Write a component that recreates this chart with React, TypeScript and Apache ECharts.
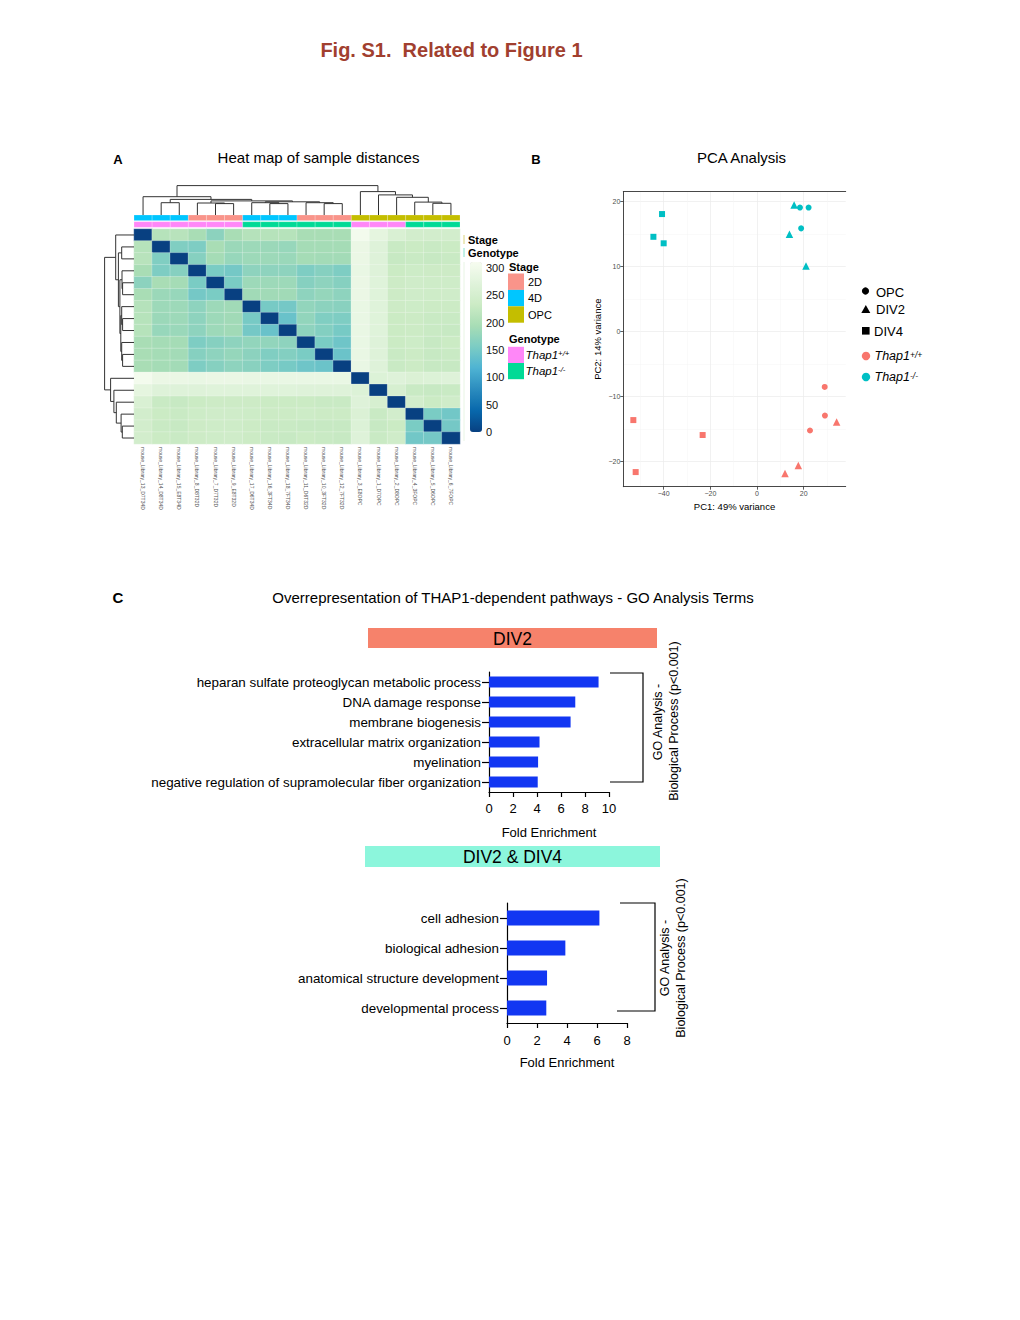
import React, { useEffect, useRef } from 'react';
import * as echarts from 'echarts';

const FONT = '"Liberation Sans", Arial, Helvetica, sans-serif';

// ---------------- Panel A: sample distance heat map ----------------
const sampleNames = [
  'mouse_Library_13_D7T34D', 'mouse_Library_14_D8T34D', 'mouse_Library_15_E8T34D',
  'mouse_Library_8_D8T32D', 'mouse_Library_7_D7T32D', 'mouse_Library_9_E8T32D',
  'mouse_Library_17_D6T34D', 'mouse_Library_16_3FT34D', 'mouse_Library_18_7FT34D',
  'mouse_Library_11_D6T32D', 'mouse_Library_10_3FT32D', 'mouse_Library_12_7FT32D',
  'mouse_Library_3_E8OPC', 'mouse_Library_1_D7OPC', 'mouse_Library_2_D8OPC',
  'mouse_Library_4_3FOPC', 'mouse_Library_5_D6OPC', 'mouse_Library_6_7FOPC',
];
const sampleStage = ['4D', '4D', '4D', '2D', '2D', '2D', '4D', '4D', '4D', '2D', '2D', '2D', 'OPC', 'OPC', 'OPC', 'OPC', 'OPC', 'OPC'];
const sampleGenotype = ['+/+', '+/+', '+/+', '+/+', '+/+', '+/+', '-/-', '-/-', '-/-', '-/-', '-/-', '-/-', '+/+', '+/+', '+/+', '-/-', '-/-', '-/-'];
const stageLevels = ['2D', '4D', 'OPC'];
const genotypeLevels = ['+/+', '-/-'];

// upper triangle of the (symmetric) distance matrix, row i holds columns i+1..18
const distanceUpper: number[][] = [
  [210, 212, 195, 170, 195, 208, 210, 210, 195, 195, 195, 305, 280, 258, 245, 245, 245],
  [160, 158, 195, 183, 185, 183, 180, 192, 192, 192, 290, 268, 230, 232, 230, 232],
  [165, 192, 180, 185, 185, 182, 192, 190, 190, 290, 268, 228, 230, 228, 230],
  [155, 150, 172, 172, 172, 158, 165, 158, 288, 268, 232, 236, 235, 235],
  [155, 185, 185, 185, 165, 172, 165, 290, 270, 235, 240, 238, 238],
  [188, 188, 188, 172, 178, 172, 290, 270, 235, 240, 238, 240],
  [152, 150, 175, 170, 168, 288, 270, 235, 236, 233, 233],
  [140, 175, 160, 158, 288, 270, 232, 233, 230, 230],
  [172, 162, 152, 288, 270, 232, 233, 230, 228],
  [155, 145, 288, 268, 232, 236, 228, 232],
  [142, 288, 268, 230, 233, 228, 230],
  [288, 268, 230, 233, 228, 228],
  [265, 268, 262, 265, 268],
  [252, 230, 228, 230],
  [245, 232, 240],
  [155, 148],
  [150],
];
const distanceMax = 311;
const colorbarTicks = [0, 50, 100, 150, 200, 250, 300];

// hierarchical clustering merges (hclust style: negative = leaf position, positive = earlier merge), relative height
const dendroMerges: [number, number, number][] = [
  [-2, -3, 0.41],
  [-5, -6, 0.38],
  [-4, 2, 0.40],
  [-8, -9, 0.38],
  [-7, 4, 0.41],
  [-11, -12, 0.38],
  [-10, 6, 0.41],
  [5, 7, 0.44],
  [3, 8, 0.47],
  [1, 9, 0.52],
  [-1, 10, 0.61],
  [-17, -18, 0.39],
  [-16, 12, 0.43],
  [-15, 13, 0.59],
  [-14, 14, 0.67],
  [-13, 15, 0.78],
  [11, 16, 0.98],
];

// ---------------- Panel B: PCA ----------------
const pcaPC1 = [-40.7, -44.4, -40.0, 15.9, 13.9, 21.0, 18.4, 22.1, 18.9, -53.0, -23.3, -52.0, 34.1, 17.7, 12.0, 29.0, 29.1, 22.7];
const pcaPC2 = [18.1, 14.6, 13.6, 19.5, 15.0, 10.1, 19.1, 19.1, 15.9, -13.6, -15.9, -21.6, -13.9, -20.6, -21.8, -8.5, -12.9, -15.2];
const pcaStage = ['DIV4', 'DIV4', 'DIV4', 'DIV2', 'DIV2', 'DIV2', 'OPC', 'OPC', 'OPC', 'DIV4', 'DIV4', 'DIV4', 'DIV2', 'DIV2', 'DIV2', 'OPC', 'OPC', 'OPC'];
const pcaGenotype = ['-/-', '-/-', '-/-', '-/-', '-/-', '-/-', '-/-', '-/-', '-/-', '+/+', '+/+', '+/+', '+/+', '+/+', '+/+', '+/+', '+/+', '+/+'];
const pcaStages = ['OPC', 'DIV2', 'DIV4'];
const pc1Range = [-57.3, 38.0];
const pc2Range = [-23.85, 21.54];
const pc1Ticks = [-40, -20, 0, 20];
const pc1Minor = [-50, -30, -10, 10, 30];
const pc2Ticks = [-20, -10, 0, 10, 20];
const pc2Minor = [-15, -5, 5, 15];

// ---------------- Panel C: GO terms ----------------
const div2Terms = [
  'heparan sulfate proteoglycan metabolic process',
  'DNA damage response',
  'membrane biogenesis',
  'extracellular matrix organization',
  'myelination',
  'negative regulation of supramolecular fiber organization',
];
const div2Fold = [9.13, 7.19, 6.8, 4.21, 4.09, 4.06];
const div24Terms = ['cell adhesion', 'biological adhesion', 'anatomical structure development', 'developmental process'];
const div24Fold = [6.16, 3.89, 2.67, 2.62];

// ---------------- styles ----------------
const stageColors: Record<string, string> = { '2D': '#F9948A', '4D': '#00C6FF', OPC: '#C4BE00' };
const genotypeColors: Record<string, string> = { '+/+': '#FF87F8', '-/-': '#00DA96' };
const heatColors = ['#084081', '#0868ac', '#2b8cbe', '#4eb3d3', '#7bccc4', '#a8ddb5', '#ccebc5', '#e0f3db', '#f7fcf0'];
const pcaColors: Record<string, string> = { '+/+': '#F8766D', '-/-': '#00BFC4' };
const pcaSymbols: Record<string, string> = { OPC: 'circle', DIV2: 'triangle', DIV4: 'rect' };
const pcaSizes: Record<string, number> = { OPC: 6, DIV2: 7.5, DIV4: 6 };
const BAR_BLUE = '#1236F2';

function buildDendro(merges: [number, number, number][]) {
  const pos: number[] = [];
  const hgt: number[] = [];
  const segs: number[][] = [];
  merges.forEach(([a, b, h], k) => {
    const get = (c: number) => (c < 0 ? [-c, 0] : [pos[c - 1], hgt[c - 1]]);
    const [xa, ha] = get(a);
    const [xb, hb] = get(b);
    pos[k] = (xa + xb) / 2;
    hgt[k] = h;
    segs.push([xa, ha, xb, hb, h]);
  });
  return segs;
}

function txt(x: number, y: number, text: string, o: any = {}) {
  return {
    type: 'text',
    x,
    y,
    rotation: o.rotation || 0,
    silent: true,
    style: {
      text,
      fontFamily: FONT,
      fontSize: o.size || 12,
      fontWeight: o.weight || 'normal',
      fontStyle: o.italic ? 'italic' : 'normal',
      fill: o.color || '#000',
      align: o.align || 'left',
      verticalAlign: 'middle',
      textAlign: o.align || 'left',
      textVerticalAlign: 'middle',
    },
  };
}

function thapText(x: number, y: number, geno: string, size: number) {
  return {
    type: 'text',
    x,
    y,
    silent: true,
    style: {
      text: `{i|Thap1}{s|${geno}}`,
      align: 'left',
      verticalAlign: 'middle',
      textAlign: 'left',
      textVerticalAlign: 'middle',
      rich: {
        i: { fontFamily: FONT, fontSize: size, fontStyle: 'italic', fill: '#000', lineHeight: size + 1, verticalAlign: 'bottom' },
        s: { fontFamily: FONT, fontSize: size * 0.68, fontStyle: 'italic', fill: '#000', lineHeight: size * 0.68 + 1, verticalAlign: 'top', padding: [1, 0, 0, 0] },
      },
    },
  };
}

function buildOption() {
  const n = sampleNames.length;
  const dist: number[][] = Array.from({ length: n }, () => Array(n).fill(0));
  distanceUpper.forEach((row, i) =>
    row.forEach((v, k) => {
      const j = i + 1 + k;
      dist[i][j] = v;
      dist[j][i] = v;
    })
  );
  const heatData: number[][] = [];
  for (let i = 0; i < n; i++) for (let j = 0; j < n; j++) heatData.push([j, i, dist[i][j]]);

  const dendroSegs = buildDendro(dendroMerges);

  const annotRender = (levels: string[], colors: Record<string, string>) => (params: any, api: any) => {
    const i = api.value(0);
    const p0 = api.coord([i - 0.5, 1]);
    const p1 = api.coord([i + 0.5, 0]);
    return {
      type: 'rect',
      shape: { x: p0[0], y: p0[1], width: p1[0] - p0[0], height: p1[1] - p0[1] },
      style: { fill: colors[levels[params.dataIndex]], stroke: 'rgba(255,255,255,0.35)', lineWidth: 0.6 },
    };
  };

  const grids = [
    { left: 134, top: 229, width: 326, height: 215 },
    { left: 134, top: 215, width: 326, height: 5.6 },
    { left: 134, top: 221.7, width: 326, height: 5.6 },
    { left: 134, top: 185, width: 326, height: 30 },
    { left: 104, top: 229, width: 30, height: 215 },
    { left: 470, top: 262, width: 12, height: 170 },
    { left: 623.3, top: 191.7, width: 222.4, height: 295 },
    { left: 489, top: 672, width: 120, height: 120 },
    { left: 507, top: 903, width: 120, height: 120 },
  ].map((g) => ({ ...g, containLabel: false, outerBoundsMode: 'none', show: false }));

  const hiddenVal = (gridIndex: number, min: number, max: number, inverse = false) => ({
    gridIndex,
    type: 'value',
    min,
    max,
    inverse,
    show: false,
  });

  const minus = (v: number) => (v < 0 ? '\u2212' + Math.abs(v) : String(v));

  const pcaLine = { show: true, onZero: false, lineStyle: { color: '#333', width: 0.9 } };
  const pcaLabel = { fontSize: 7, color: '#4D4D4D', margin: 3, fontFamily: FONT, formatter: minus };
  const pcaName = { fontSize: 9.5, color: '#000', fontFamily: FONT };

  const barAxisLine = { show: true, onZero: false, lineStyle: { color: '#000', width: 1.2 } };
  const termLabel = { fontSize: 13.4, color: '#000', margin: 8, fontFamily: FONT, interval: 0 };

  const xAxis: any[] = [
    {
      gridIndex: 0,
      type: 'category',
      data: sampleNames,
      axisLine: { show: false },
      axisTick: { show: false },
      splitLine: { show: false },
      axisLabel: { rotate: -90, fontSize: 5, color: '#555', interval: 0, margin: 3, fontFamily: FONT },
    },
    hiddenVal(1, 0.5, 18.5),
    hiddenVal(2, 0.5, 18.5),
    hiddenVal(3, 0.5, 18.5),
    hiddenVal(4, 0, 1, true),
    hiddenVal(5, 0, 1),
    {
      gridIndex: 6,
      type: 'value',
      min: pc1Range[0],
      max: pc1Range[1],
      position: 'bottom',
      axisLine: pcaLine,
      axisTick: { show: true, length: 3, customValues: pc1Ticks, lineStyle: { color: '#333', width: 0.8 } },
      axisLabel: { ...pcaLabel, customValues: pc1Ticks },
      splitLine: { show: true, lineStyle: { color: '#EBEBEB', width: 0.7 } },
      name: 'PC1: 49% variance',
      nameLocation: 'middle',
      nameGap: 15,
      nameTextStyle: pcaName,
    },
    {
      gridIndex: 6,
      type: 'value',
      min: pc1Range[0],
      max: pc1Range[1],
      axisLine: { show: false, onZero: false },
      axisTick: { show: false, customValues: pc1Minor },
      axisLabel: { show: false, customValues: pc1Minor },
      splitLine: { show: true, lineStyle: { color: '#F4F4F4', width: 0.5 } },
    },
    {
      gridIndex: 6,
      type: 'value',
      min: pc1Range[0],
      max: pc1Range[1],
      position: 'top',
      axisLine: pcaLine,
      axisTick: { show: false },
      axisLabel: { show: false },
      splitLine: { show: false },
    },
    {
      gridIndex: 7,
      type: 'value',
      min: 0,
      max: 10,
      interval: 2,
      axisLine: barAxisLine,
      axisTick: { show: true, length: 5, lineStyle: { color: '#000', width: 1.2 } },
      axisLabel: { fontSize: 13, color: '#000', margin: 10, fontFamily: FONT },
      splitLine: { show: false },
      name: 'Fold Enrichment',
      nameLocation: 'middle',
      nameGap: 34,
      nameTextStyle: { fontSize: 13, color: '#000', fontFamily: FONT },
    },
    {
      gridIndex: 8,
      type: 'value',
      min: 0,
      max: 8,
      interval: 2,
      axisLine: barAxisLine,
      axisTick: { show: true, length: 5, lineStyle: { color: '#000', width: 1.2 } },
      axisLabel: { fontSize: 13, color: '#000', margin: 11, fontFamily: FONT },
      splitLine: { show: false },
      name: 'Fold Enrichment',
      nameLocation: 'middle',
      nameGap: 33,
      nameTextStyle: { fontSize: 13, color: '#000', fontFamily: FONT },
    },
  ];

  const yAxis: any[] = [
    { gridIndex: 0, type: 'category', data: sampleNames, inverse: true, show: false },
    hiddenVal(1, 0, 1),
    hiddenVal(2, 0, 1),
    hiddenVal(3, 0, 1),
    hiddenVal(4, 0.5, 18.5, true),
    {
      gridIndex: 5,
      type: 'value',
      min: 0,
      max: distanceMax,
      position: 'right',
      axisLine: { show: false, onZero: false },
      axisTick: { show: false, customValues: colorbarTicks },
      splitLine: { show: false },
      axisLabel: { customValues: colorbarTicks, fontSize: 11, color: '#111', margin: 4, fontFamily: FONT },
    },
    {
      gridIndex: 6,
      type: 'value',
      min: pc2Range[0],
      max: pc2Range[1],
      position: 'left',
      axisLine: pcaLine,
      axisTick: { show: true, length: 3, customValues: pc2Ticks, lineStyle: { color: '#333', width: 0.8 } },
      axisLabel: { ...pcaLabel, customValues: pc2Ticks },
      splitLine: { show: true, lineStyle: { color: '#EBEBEB', width: 0.7 } },
      name: 'PC2: 14% variance',
      nameLocation: 'middle',
      nameGap: 21,
      nameTextStyle: pcaName,
    },
    {
      gridIndex: 6,
      type: 'value',
      min: pc2Range[0],
      max: pc2Range[1],
      axisLine: { show: false, onZero: false },
      axisTick: { show: false, customValues: pc2Minor },
      axisLabel: { show: false, customValues: pc2Minor },
      splitLine: { show: true, lineStyle: { color: '#F4F4F4', width: 0.5 } },
    },
    {
      gridIndex: 7,
      type: 'category',
      data: div2Terms,
      inverse: true,
      axisLine: barAxisLine,
      axisTick: { show: true, alignWithLabel: true, length: 7, lineStyle: { color: '#000', width: 1.2 } },
      axisLabel: termLabel,
    },
    {
      gridIndex: 8,
      type: 'category',
      data: div24Terms,
      inverse: true,
      axisLine: barAxisLine,
      axisTick: { show: true, alignWithLabel: true, length: 7, lineStyle: { color: '#000', width: 1.2 } },
      axisLabel: termLabel,
    },
  ];

  const series: any[] = [
    {
      type: 'heatmap',
      xAxisIndex: 0,
      yAxisIndex: 0,
      data: heatData,
      itemStyle: { borderColor: 'rgba(255,255,255,0.4)', borderWidth: 0.6 },
      emphasis: { disabled: true },
      silent: true,
    },
    {
      type: 'custom',
      xAxisIndex: 1,
      yAxisIndex: 1,
      data: sampleStage.map((_, i) => [i + 1, 0]),
      renderItem: annotRender(sampleStage, stageColors),
      silent: true,
      clip: false,
    },
    {
      type: 'custom',
      xAxisIndex: 2,
      yAxisIndex: 2,
      data: sampleGenotype.map((_, i) => [i + 1, 0]),
      renderItem: annotRender(sampleGenotype, genotypeColors),
      silent: true,
      clip: false,
    },
    {
      type: 'custom',
      xAxisIndex: 3,
      yAxisIndex: 3,
      data: dendroSegs,
      silent: true,
      clip: false,
      renderItem: (_p: any, api: any) => {
        const pts = [
          api.coord([api.value(0), api.value(1)]),
          api.coord([api.value(0), api.value(4)]),
          api.coord([api.value(2), api.value(4)]),
          api.coord([api.value(2), api.value(3)]),
        ];
        return { type: 'polyline', shape: { points: pts }, style: { stroke: '#333', lineWidth: 1, fill: null } };
      },
    },
    {
      type: 'custom',
      xAxisIndex: 4,
      yAxisIndex: 4,
      data: dendroSegs,
      silent: true,
      clip: false,
      renderItem: (_p: any, api: any) => {
        const pts = [
          api.coord([api.value(1), api.value(0)]),
          api.coord([api.value(4), api.value(0)]),
          api.coord([api.value(4), api.value(2)]),
          api.coord([api.value(3), api.value(2)]),
        ];
        return { type: 'polyline', shape: { points: pts }, style: { stroke: '#333', lineWidth: 1, fill: null } };
      },
    },
  ];

  genotypeLevels.forEach((g) => {
    pcaStages.forEach((s) => {
      const data: number[][] = [];
      pcaPC1.forEach((x, i) => {
        if (pcaGenotype[i] === g && pcaStage[i] === s) data.push([x, pcaPC2[i]]);
      });
      series.push({
        type: 'scatter',
        xAxisIndex: 6,
        yAxisIndex: 6,
        data,
        symbol: pcaSymbols[s],
        symbolSize: pcaSizes[s],
        itemStyle: { color: pcaColors[g], opacity: 1 },
        silent: true,
        z: 5,
      });
    });
  });

  series.push({
    type: 'bar',
    xAxisIndex: 9,
    yAxisIndex: 8,
    data: div2Fold,
    barWidth: 11,
    itemStyle: { color: BAR_BLUE },
    silent: true,
  });
  series.push({
    type: 'bar',
    xAxisIndex: 10,
    yAxisIndex: 9,
    data: div24Fold,
    barWidth: 15,
    itemStyle: { color: BAR_BLUE },
    silent: true,
  });

  const graphic: any[] = [
    txt(451.5, 50, 'Fig. S1.\u00a0 Related to Figure 1', { size: 20, weight: 'bold', color: '#A13F2F', align: 'center' }),
    txt(118, 159, 'A', { size: 13, weight: 'bold', align: 'center' }),
    txt(318.5, 157, 'Heat map of sample distances', { size: 15, align: 'center' }),
    txt(536, 159, 'B', { size: 13, weight: 'bold', align: 'center' }),
    txt(741.5, 157, 'PCA Analysis', { size: 15, align: 'center' }),
    txt(118, 597, 'C', { size: 15, weight: 'bold', align: 'center' }),
    txt(513, 597, 'Overrepresentation of THAP1-dependent pathways - GO Analysis Terms', { size: 15, align: 'center' }),

    // heat map annotation legend
    { type: 'line', silent: true, shape: { x1: 464, y1: 235, x2: 464, y2: 244 }, style: { stroke: '#D8D27A', lineWidth: 1 } },
    { type: 'line', silent: true, shape: { x1: 464, y1: 248, x2: 464, y2: 257 }, style: { stroke: '#86E3CC', lineWidth: 1 } },
    { type: 'line', silent: true, shape: { x1: 464, y1: 262, x2: 464, y2: 441 }, style: { stroke: '#E8F5E4', lineWidth: 1 } },
    txt(468, 240, 'Stage', { size: 11, weight: 'bold' }),
    txt(468, 253, 'Genotype', { size: 11, weight: 'bold' }),
    txt(509, 266.5, 'Stage', { size: 11, weight: 'bold' }),
    txt(509, 339, 'Genotype', { size: 11, weight: 'bold' }),
  ];
  stageLevels.forEach((s, k) => {
    const y0 = 273.5 + k * 16.4;
    graphic.push({ type: 'rect', silent: true, shape: { x: 508, y: y0, width: 16, height: 16.4 }, style: { fill: stageColors[s] } });
    graphic.push(txt(528, y0 + 8.4, s, { size: 11 }));
  });
  genotypeLevels.forEach((g, k) => {
    const y0 = 346.8 + k * 16.2;
    graphic.push({ type: 'rect', silent: true, shape: { x: 508, y: y0, width: 16, height: 16.2 }, style: { fill: genotypeColors[g] } });
    graphic.push(thapText(525.5, y0 + 7.5, g, 11.5));
  });

  // PCA legend
  graphic.push({ type: 'circle', silent: true, shape: { cx: 865.5, cy: 291, r: 3.6 }, style: { fill: '#000' } });
  graphic.push(txt(876, 292.5, 'OPC', { size: 13 }));
  graphic.push({ type: 'polygon', silent: true, shape: { points: [[861.3, 313], [870.3, 313], [865.8, 305]] }, style: { fill: '#000' } });
  graphic.push(txt(876, 309.5, 'DIV2', { size: 13 }));
  graphic.push({ type: 'rect', silent: true, shape: { x: 862, y: 327, width: 7.6, height: 7.6 }, style: { fill: '#000' } });
  graphic.push(txt(874, 331, 'DIV4', { size: 13 }));
  genotypeLevels.forEach((g, k) => {
    const cy = 356 + k * 21;
    graphic.push({ type: 'circle', silent: true, shape: { cx: 866, cy, r: 4.2 }, style: { fill: pcaColors[g] } });
    graphic.push(thapText(874.5, cy, g, 12.5));
  });

  // GO headers
  graphic.push({ type: 'rect', silent: true, shape: { x: 368, y: 628, width: 289, height: 20 }, style: { fill: '#F6826B' } });
  graphic.push(txt(512.5, 639, 'DIV2', { size: 17.5, align: 'center' }));
  graphic.push({ type: 'rect', silent: true, shape: { x: 365, y: 846, width: 295, height: 21 }, style: { fill: '#8CF6DC' } });
  graphic.push(txt(512.5, 857, 'DIV2 & DIV4', { size: 17.5, align: 'center' }));

  // brackets + rotated labels
  graphic.push({ type: 'polyline', silent: true, shape: { points: [[610, 673], [643, 673], [643, 782], [610, 782]] }, style: { stroke: '#000', lineWidth: 1.2, fill: null } });
  graphic.push(txt(658, 722, 'GO Analysis -', { size: 12.5, align: 'center', rotation: Math.PI / 2 }));
  graphic.push(txt(674, 721, 'Biological Process (p<0.001)', { size: 12.5, align: 'center', rotation: Math.PI / 2 }));
  graphic.push({ type: 'polyline', silent: true, shape: { points: [[620, 903], [655, 903], [655, 1011], [617, 1011]] }, style: { stroke: '#000', lineWidth: 1.2, fill: null } });
  graphic.push(txt(665, 958, 'GO Analysis -', { size: 12.5, align: 'center', rotation: Math.PI / 2 }));
  graphic.push(txt(681, 958, 'Biological Process (p<0.001)', { size: 12.5, align: 'center', rotation: Math.PI / 2 }));

  return {
    animation: false,
    backgroundColor: '#ffffff',
    textStyle: { fontFamily: FONT },
    grid: grids,
    xAxis,
    yAxis,
    visualMap: [
      {
        type: 'continuous',
        min: 0,
        max: distanceMax,
        seriesIndex: 0,
        calculable: false,
        hoverLink: false,
        orient: 'vertical',
        left: 470,
        top: 262,
        itemWidth: 12,
        itemHeight: 170,
        padding: 0,
        inRange: { color: heatColors },
      },
    ],
    series,
    graphic,
  };
}

export default function App() {
  const ref = useRef<HTMLDivElement>(null);
  useEffect(() => {
    if (!ref.current) return;
    const chart = echarts.init(ref.current, null, { renderer: 'svg' });
    chart.setOption(buildOption() as any);
    return () => chart.dispose();
  }, []);
  return (
    <div
      ref={ref}
      style={{ position: 'absolute', left: 0, top: 0, width: 1020, height: 1320, background: '#fff' }}
    />
  );
}
